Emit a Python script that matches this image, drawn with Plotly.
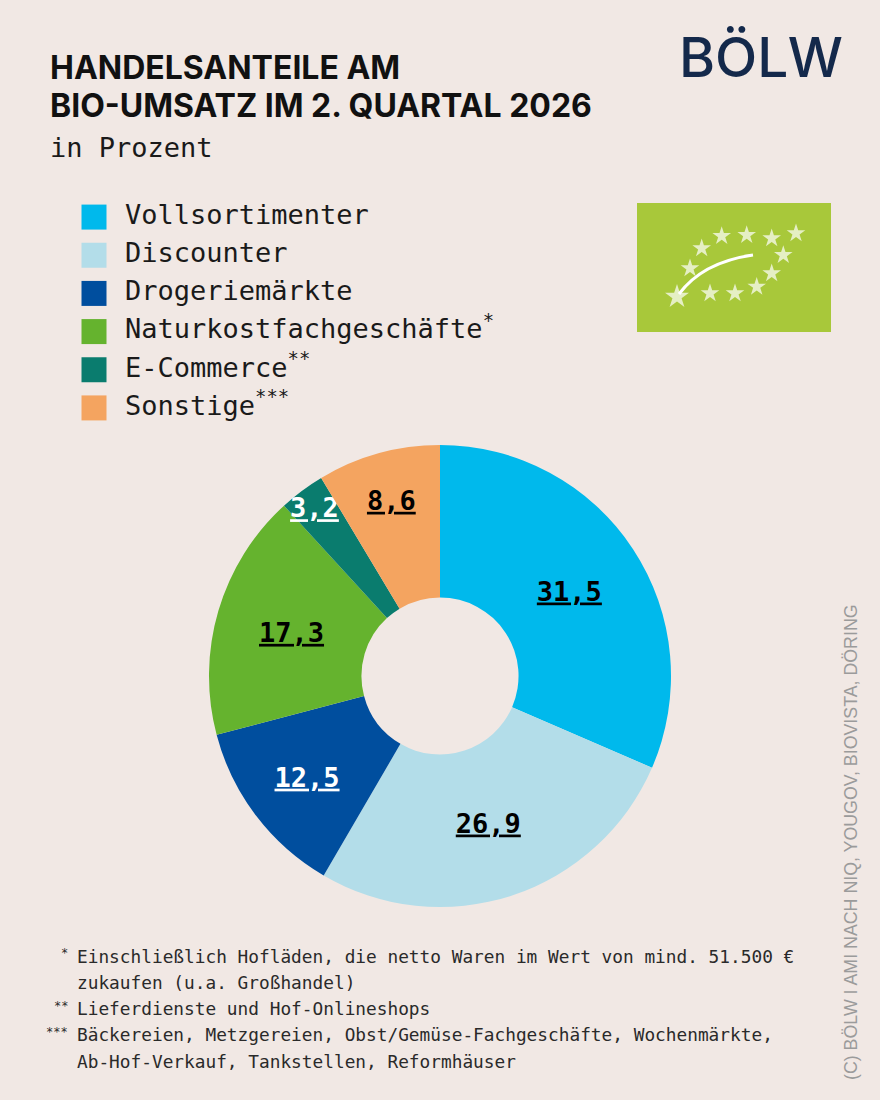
import plotly.graph_objects as go

# Data
categories = ["Vollsortimenter", "Discounter", "Drogeriemärkte",
              "Naturkostfachgeschäfte", "E-Commerce", "Sonstige"]
legend_labels = ["Vollsortimenter", "Discounter", "Drogeriemärkte",
                 "Naturkostfachgeschäfte<sup>*</sup>", "E-Commerce<sup>**</sup>",
                 "Sonstige<sup>***</sup>"]
shares = [31.5, 26.9, 12.5, 17.3, 3.2, 8.6]
colors = ["#00B9EC", "#B3DDE9", "#004E9E", "#65B32E", "#0A7C6E", "#F4A460"]
label_colors = ["black", "black", "white", "black", "white", "black"]

title_lines = ["HANDELSANTEILE AM", "BIO-UMSATZ IM 2. QUARTAL 2026"]
footnote_marks = ["*", "", "**", "***", ""]
footnote_lines = [
    "Einschließlich Hofläden, die netto Waren im Wert von mind. 51.500 €",
    "zukaufen (u.a. Großhandel)",
    "Lieferdienste und Hof-Onlineshops",
    "Bäckereien, Metzgereien, Obst/Gemüse-Fachgeschäfte, Wochenmärkte,",
    "Ab-Hof-Verkauf, Tankstellen, Reformhäuser",
]
source = "(C) BÖLW I AMI NACH NIQ, YOUGOV, BIOVISTA, DÖRING"

W, H = 880, 1100
BG = "#F1E8E4"
MONO = "DejaVu Sans Mono"


def px(x, y):
    return x / W, 1 - y / H


fig = go.Figure()

# donut, labels underlined like the original
fig.add_trace(go.Pie(
    labels=categories, values=shares, sort=False, direction="clockwise",
    rotation=0, hole=0.34,
    marker=dict(colors=colors, line=dict(width=0)),
    texttemplate="<u>%{value:.1f}</u>", textposition="inside",
    insidetextorientation="horizontal",
    insidetextfont=dict(family=MONO, size=27, color=label_colors, weight="bold"),
    domain=dict(x=[208 / W, 672 / W], y=[1 - 907 / H, 1 - 445 / H]),
    showlegend=False, hoverinfo="skip",
))

# legend drawn as a scatter on a categorical axis
fig.add_trace(go.Scatter(
    x=[0] * len(categories), y=categories, mode="markers",
    marker=dict(symbol="square", size=25, color=colors),
    xaxis="x2", yaxis="y2", showlegend=False, hoverinfo="skip",
))
fig.add_trace(go.Scatter(
    x=[1] * len(categories), y=categories, mode="text", text=legend_labels,
    textposition="middle right",
    textfont=dict(family=MONO, size=27, color="#1A1A1A"),
    xaxis="x2", yaxis="y2", showlegend=False, hoverinfo="skip",
))

# EU organic leaf stars (decoration)
star_x = [721.7, 746.7, 771.7, 796, 701.7, 783.3, 690, 771.7, 710, 735, 756.7]
star_y = [236, 235, 238.3, 233.3, 248.3, 255, 268.3, 273.3, 293.3, 293.3, 286.7]
fig.add_trace(go.Scatter(
    x=star_x + [677], y=star_y + [296.7], mode="markers",
    marker=dict(symbol="star", size=[14] * len(star_x) + [18], color="white",
                line=dict(width=0)),
    xaxis="x", yaxis="y", showlegend=False, hoverinfo="skip",
))

fig.add_shape(type="rect", xref="x", yref="y", x0=637, x1=831, y0=203, y1=332,
              fillcolor="#A8C83A", line=dict(width=0), layer="below")
fig.add_shape(type="path", xref="x", yref="y",
              path="M 679,294 Q 703,262 753,255",
              line=dict(color="white", width=3))

# titles
for i, line in enumerate(title_lines):
    fig.add_annotation(x=px(48, 0)[0], y=px(0, 68 + i * 37)[1], xref="paper",
                       yref="paper", xanchor="left", yanchor="middle",
                       showarrow=False, text="<b>" + line + "</b>",
                       font=dict(family="Inter", size=32, color="#111111"))
fig.add_annotation(x=px(48, 0)[0], y=px(0, 147)[1], xref="paper", yref="paper",
                   xanchor="left", yanchor="middle", showarrow=False,
                   text="in Prozent", font=dict(family=MONO, size=27, color="#1A1A1A"))
fig.add_annotation(x=px(845, 0)[0], y=px(0, 57)[1], xref="paper", yref="paper",
                   xanchor="right", yanchor="middle", showarrow=False,
                   text="BÖLW",
                   font=dict(family="Inter", size=55, color="#14294B", weight=500))

# footnotes
for i, (mark, line) in enumerate(zip(footnote_marks, footnote_lines)):
    yy = 956 + i * 26.3
    fig.add_annotation(x=px(75, 0)[0], y=px(0, yy)[1], xref="paper", yref="paper",
                       xanchor="left", yanchor="middle", showarrow=False,
                       text=line, font=dict(family=MONO, size=17.8, color="#2A2A2A"))
    if mark:
        fig.add_annotation(x=px(70, 0)[0], y=px(0, yy - 3)[1], xref="paper",
                           yref="paper", xanchor="right", yanchor="middle",
                           showarrow=False, text=mark,
                           font=dict(family=MONO, size=12, color="#2A2A2A"))

fig.add_annotation(x=px(851, 0)[0], y=px(0, 842)[1], xref="paper", yref="paper",
                   xanchor="center", yanchor="middle",
                   textangle=-90, showarrow=False, text=source,
                   font=dict(family="Liberation Sans", size=17.8, color="#9B9B9B"))

hidden = dict(visible=False, showgrid=False, zeroline=False, fixedrange=True)
fig.update_layout(
    width=W, height=H, margin=dict(l=0, r=0, t=0, b=0),
    paper_bgcolor=BG, plot_bgcolor="rgba(0,0,0,0)",
    separators=",.",
    uniformtext=dict(minsize=27, mode="show"),
    xaxis=dict(hidden, domain=[0, 1], range=[0, W]),
    yaxis=dict(hidden, domain=[0, 1], range=[H, 0]),
    xaxis2=dict(hidden, domain=[0, 1], range=[-94 / 31, 786 / 31], anchor="y2"),
    yaxis2=dict(hidden, domain=[1 - 427 / H, 1 - 198 / H], type="category",
                categoryorder="array", categoryarray=categories,
                range=[5.5, -0.5], anchor="x2"),
)

fig.write_html("out.html", config={"displayModeBar": False},
               post_script="document.body.style.margin='0';")
